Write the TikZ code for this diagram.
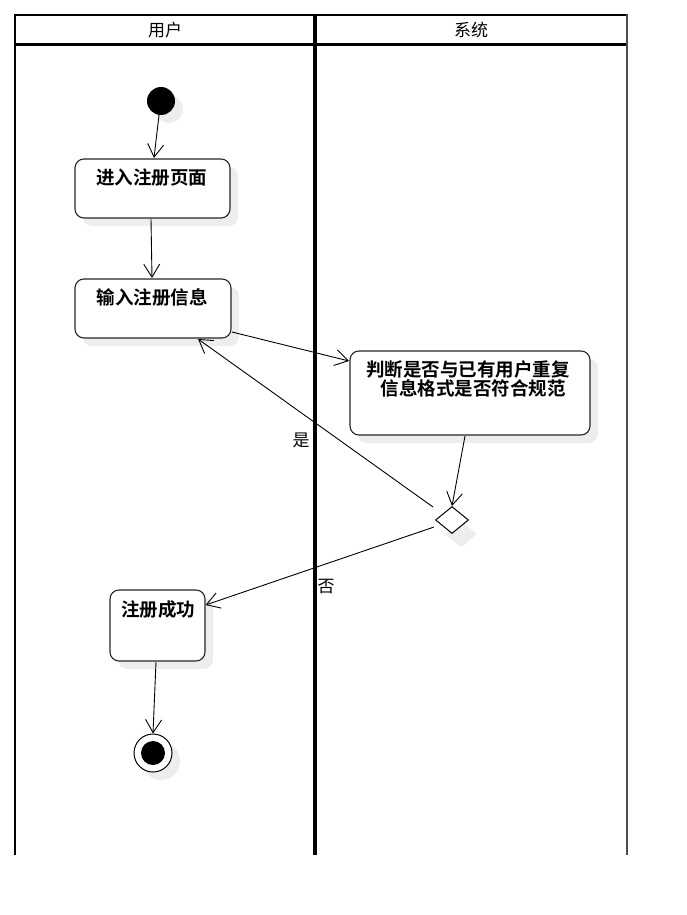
\documentclass[tikz,border=0pt]{standalone}
\usepackage{fontspec}
\newfontfamily\cjk{Noto Sans CJK SC}
\newfontfamily\cjkb{Noto Sans CJK SC Bold}
\usetikzlibrary{arrows.meta,shapes.geometric,calc}
\definecolor{shadowgray}{HTML}{EDEDED}
\tikzset{
  act/.style={draw=black!85, line width=1.1pt, rounded corners=9pt, fill=white},
  shad/.style={fill=shadowgray, rounded corners=9pt},
  acttext/.style={font=\cjkb\fontsize{18.5}{19}\selectfont, inner sep=0pt, align=center},
  lbl/.style={font=\cjk\fontsize{17}{18}\selectfont, inner sep=0pt},
  hdr/.style={font=\cjk\fontsize{17}{18}\selectfont, inner sep=0pt},
  flow/.style={line width=0.9pt, -{Straight Barb[length=13pt,width=16pt,line width=0.9pt]}},
}
\begin{document}
\begin{tikzpicture}[x=1pt,y=-1pt]
\useasboundingbox (0,0) rectangle (687,915);
% swimlanes
\draw[line width=2.2pt] (15,15) -- (627,15);
\draw[line width=3pt] (15,45) -- (627,45);
\draw[line width=2pt] (15,14) -- (15,855);
\draw[line width=2pt, draw=black!70] (627,14) -- (627,855);
\draw[line width=3.5pt] (315,14) -- (315,855);
\node[hdr] (h1) at (165,30) {用户};
\node[hdr] (h2) at (471,30) {系统};
% shadows
\fill[shadowgray] (169,109) circle (14);
\fill[shad] (83,167) rectangle (238,226);
\fill[shad] (83,287) rectangle (239,346);
\fill[shad] (358,359) rectangle (598,443);
\fill[shadowgray] (461,521) -- (477,534) -- (461,547) -- (445,534) -- cycle;
\fill[shad] (118,598) rectangle (213,669);
\fill[shadowgray] (161,761) circle (19);
% nodes
\node[circle, fill=black, minimum size=28pt, inner sep=0pt] (init) at (161,101) {};
\node[act, minimum width=155pt, minimum height=59pt] (b1) at (152.5,188.5) {};
\node[acttext] (t1) at (151.5,178) {进入注册页面};
\node[act, minimum width=156pt, minimum height=59pt] (b2) at (153,308.5) {};
\node[acttext] (t2) at (152,297) {输入注册信息};
\node[act, minimum width=240pt, minimum height=84pt] (b3) at (470,393) {};
\node[acttext] (t3a) at (468,369) {判断是否与已有用户重复};
\node[acttext] (t3b) at (473,388) {信息格式是否符合规范};
\node[diamond, draw, line width=1pt, fill=white, minimum width=33pt, minimum height=27pt, inner sep=0pt] (d) at (452,520) {};
\node[act, minimum width=95pt, minimum height=71pt] (b4) at (157.5,625.5) {};
\node[acttext] (t4) at (158,609) {注册成功};
\node[circle, draw, line width=1pt, fill=white, minimum size=38pt, inner sep=0pt] (fin) at (153,753) {};
\node[circle, fill=black, minimum size=24pt, inner sep=0pt] (finin) at (153,753) {};
% connection points
\coordinate (dy) at (433,507);
\coordinate (dn) at (434,527);
\coordinate (b2br) at (198,339);
\coordinate (b2r) at (232,332);
\coordinate (b3l) at (349,361);
% edges
\draw[flow] (init.south) ++(-2,0) -- (154,158);
\draw[flow] (151,219) -- (152,278);
\draw[flow] (b2r) -- (b3l);
\draw[flow] (465,436) -- (d.north);
\draw[flow] (dy) -- (b2br);
\node[lbl] (yes) at (301,440) {是};
\draw[flow] (dn) -- (b4.east |- 0,605);
\node[lbl] (no) at (326,587) {否};
\draw[flow] (156,662) -- (fin.north);
\end{tikzpicture}
\end{document}
